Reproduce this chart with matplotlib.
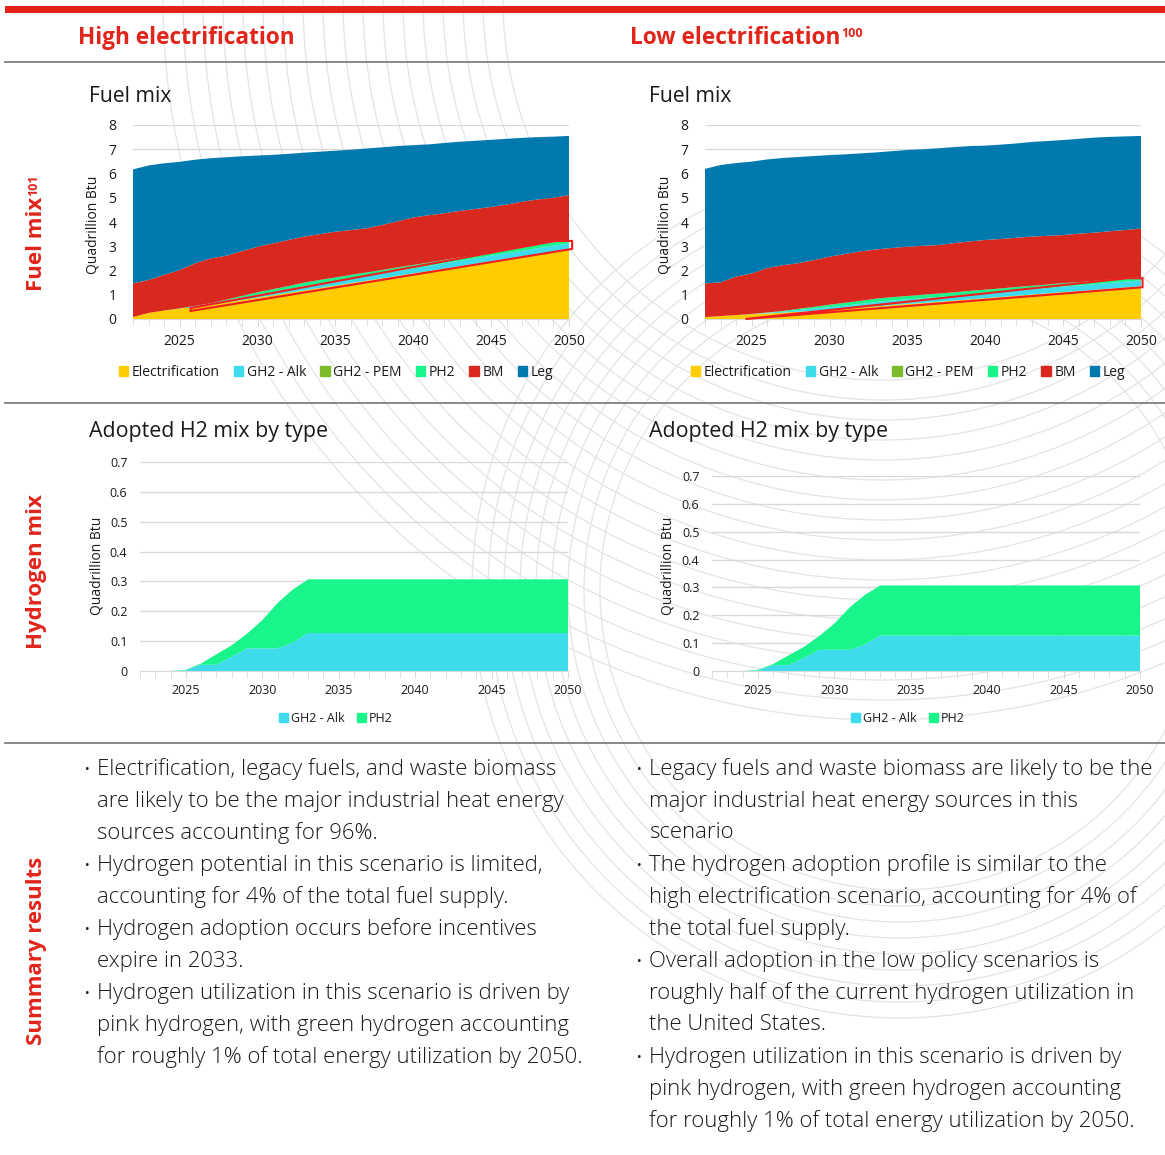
import numpy as np
import matplotlib.pyplot as plt
from matplotlib.patches import Patch, Polygon, Rectangle, Circle

plt.rcParams["font.family"] = ["Open Sans", "DejaVu Sans"]

W, H = 1165, 1155

years = list(range(2022, 2051))

# Fuel mix, high electrification scenario (Quadrillion Btu)
high_elec = [0.08, 0.25, 0.35, 0.43, 0.50, 0.58, 0.68, 0.78, 0.88, 0.98,
             1.08, 1.18, 1.28, 1.38, 1.48, 1.58, 1.68, 1.78, 1.88, 1.98,
             2.08, 2.18, 2.28, 2.38, 2.48, 2.58, 2.68, 2.78, 2.88]
high_bm_top = [1.47, 1.61, 1.82, 2.02, 2.30, 2.50, 2.61, 2.80, 2.98, 3.12,
               3.26, 3.40, 3.50, 3.60, 3.67, 3.74, 3.88, 4.03, 4.19, 4.28,
               4.36, 4.46, 4.54, 4.62, 4.72, 4.84, 4.93, 5.00, 5.11]
high_total = [6.17, 6.33, 6.42, 6.48, 6.57, 6.63, 6.67, 6.71, 6.74, 6.77,
              6.81, 6.86, 6.90, 6.94, 6.98, 7.03, 7.08, 7.13, 7.17, 7.20,
              7.26, 7.31, 7.35, 7.39, 7.43, 7.47, 7.50, 7.52, 7.55]

# Fuel mix, low electrification scenario
low_elec = [0.08, 0.12, 0.16, 0.20, 0.23, 0.26, 0.30, 0.33, 0.37, 0.42,
            0.47, 0.52, 0.57, 0.62, 0.66, 0.71, 0.76, 0.81, 0.86, 0.91,
            0.96, 1.01, 1.06, 1.11, 1.15, 1.20, 1.25, 1.30, 1.35]
low_bm_top = [1.47, 1.51, 1.75, 1.88, 2.10, 2.22, 2.30, 2.43, 2.57, 2.68,
              2.79, 2.87, 2.93, 2.98, 3.02, 3.05, 3.13, 3.20, 3.26, 3.30,
              3.35, 3.40, 3.43, 3.46, 3.52, 3.56, 3.62, 3.67, 3.73]
low_total = [6.19, 6.35, 6.43, 6.49, 6.58, 6.64, 6.68, 6.72, 6.76, 6.79,
             6.83, 6.87, 6.92, 6.97, 7.00, 7.04, 7.09, 7.13, 7.15, 7.19,
             7.24, 7.30, 7.34, 7.38, 7.43, 7.48, 7.51, 7.53, 7.55]

# Hydrogen layers inside the fuel mix
fm_alk = [0.00, 0.00, 0.00, 0.01, 0.03, 0.04, 0.07, 0.10, 0.12, 0.13,
          0.15, 0.18, 0.19, 0.19, 0.20, 0.20, 0.20, 0.21, 0.21, 0.21,
          0.22, 0.22, 0.22, 0.23, 0.23, 0.23, 0.24, 0.24, 0.24]
fm_pem = [0.0] * 29
fm_ph2 = [0.00, 0.00, 0.00, 0.00, 0.01, 0.03, 0.05, 0.07, 0.10, 0.12,
          0.13, 0.14, 0.14, 0.14, 0.14, 0.14, 0.14, 0.14, 0.14, 0.14,
          0.14, 0.14, 0.14, 0.14, 0.14, 0.14, 0.14, 0.14, 0.14]

# Adopted H2 mix by type (same in both scenarios)
h2_alk = [0.000, 0.000, 0.000, 0.002, 0.021, 0.021, 0.047, 0.076, 0.076, 0.076,
          0.095, 0.127, 0.127, 0.127, 0.127, 0.127, 0.127, 0.127, 0.127, 0.127,
          0.127, 0.127, 0.127, 0.127, 0.127, 0.127, 0.127, 0.127, 0.127]
h2_ph2 = [0.000, 0.000, 0.000, 0.002, 0.004, 0.035, 0.039, 0.049, 0.094, 0.152,
          0.178, 0.180, 0.180, 0.180, 0.180, 0.180, 0.180, 0.180, 0.180, 0.180,
          0.180, 0.180, 0.180, 0.180, 0.180, 0.180, 0.180, 0.180, 0.180]

fuel_labels = ["Electrification", "GH2 - Alk", "GH2 - PEM", "PH2", "BM", "Leg"]
fuel_colors = ["#FFCC00", "#3DDBEB", "#7DBB2A", "#19F58A", "#D9291F", "#0079AE"]

# hand-drawn callout around the hydrogen band
high_callout = [(2025.7, 0.33), (2025.7, 0.45), (2049.1, 3.22),
                (2050.2, 3.22), (2050.2, 2.89)]
low_callout = [(2024.6, 0.0), (2049.1, 1.68), (2050.1, 1.68), (2050.1, 1.31)]

summary_left = [
    (True, "Electrification, legacy fuels, and waste biomass"),
    (False, "are likely to be the major industrial heat energy"),
    (False, "sources accounting for 96%."),
    (True, "Hydrogen potential in this scenario is limited,"),
    (False, "accounting for 4% of the total fuel supply."),
    (True, "Hydrogen adoption occurs before incentives"),
    (False, "expire in 2033."),
    (True, "Hydrogen utilization in this scenario is driven by"),
    (False, "pink hydrogen, with green hydrogen accounting"),
    (False, "for roughly 1% of total energy utilization by 2050."),
]
summary_right = [
    (True, "Legacy fuels and waste biomass are likely to be the"),
    (False, "major industrial heat energy sources in this"),
    (False, "scenario"),
    (True, "The hydrogen adoption profile is similar to the"),
    (False, "high electrification scenario, accounting for 4% of"),
    (False, "the total fuel supply."),
    (True, "Overall adoption in the low policy scenarios is"),
    (False, "roughly half of the current hydrogen utilization in"),
    (False, "the United States."),
    (True, "Hydrogen utilization in this scenario is driven by"),
    (False, "pink hydrogen, with green hydrogen accounting"),
    (False, "for roughly 1% of total energy utilization by 2050."),
]

RED = "#E1251B"
GRID = "#d9d9d9"
TXT = "#1a1a1a"

fig = plt.figure(figsize=(W / 100, H / 100), dpi=100)

# full-page layer in pixel units for rules, decoration and free text
bg = fig.add_axes([0, 0, 1, 1])
bg.set_xlim(0, W)
bg.set_ylim(H, 0)
bg.axis("off")

# faint concentric rings in the page background
for r in range(380, 740, 20):
    bg.add_patch(Circle((883, 0), r, fill=False, ec="#e4e4e4", lw=0.9, zorder=0))
for r in range(300, 440, 16):
    bg.add_patch(Circle((900, 590), r, fill=False, ec="#e4e4e4", lw=0.9, zorder=0))


def frame(x0, x1, top, bottom):
    return [x0 / W, 1 - bottom / H, (x1 - x0) / W, (bottom - top) / H]


def style(ax, ymax, ystep, ypad, xpad):
    ticks = np.round(np.arange(0, ymax + 1e-9, ystep), 2)
    ax.set_xlim(2022, 2050)
    ax.set_ylim(0, ymax)
    ax.set_yticks(ticks)
    ax.set_yticklabels(["%g" % v for v in ticks])
    ax.yaxis.grid(True, color=GRID, lw=1)
    ax.set_axisbelow(True)
    for s in ["top", "right", "left"]:
        ax.spines[s].set_visible(False)
    ax.spines["bottom"].set_color(GRID)
    ax.set_xticks(range(2025, 2051, 5))
    ax.set_xticks(years, minor=True)
    ax.tick_params(axis="x", which="both", length=5, color=GRID,
                   labelsize=10, pad=xpad, labelcolor=TXT)
    ax.tick_params(axis="y", length=0, labelsize=10, pad=ypad, labelcolor=TXT)
    ax.patch.set_alpha(0)


def fuel_chart(box, elec, bm_top, total, callout):
    ax = fig.add_axes(frame(*box))
    below = np.array(elec) + np.array(fm_alk) + np.array(fm_pem) + np.array(fm_ph2)
    bm = np.array(bm_top) - below
    leg = np.array(total) - np.array(bm_top)
    ax.stackplot(years, elec, fm_alk, fm_pem, fm_ph2, bm, leg,
                 colors=fuel_colors, lw=0)
    style(ax, 8, 1, 12, 6)
    ax.add_patch(Polygon(callout, closed=True, fill=False, ec="#F01E1E",
                         lw=1.5, clip_on=False, zorder=5))
    return ax


def h2_chart(box):
    ax = fig.add_axes(frame(*box))
    ax.stackplot(years, h2_alk, h2_ph2, colors=[fuel_colors[1], fuel_colors[3]],
                 lw=0)
    style(ax, 0.7, 0.1, 9, 4)
    ax.tick_params(axis="both", labelsize=9)
    return ax


fuel_chart((133, 569, 125, 319), high_elec, high_bm_top, high_total, high_callout)
fuel_chart((705, 1141, 125, 319), low_elec, low_bm_top, low_total, low_callout)
h2_chart((140, 568, 462, 671))
h2_chart((712, 1140, 476, 671))

# legends
fuel_handles = [Patch(color=c) for c in fuel_colors]
h2_handles = [Patch(color=fuel_colors[1]), Patch(color=fuel_colors[3])]
for cx, cy, hs, ls in [(336, 372, fuel_handles, fuel_labels),
                       (908, 372, fuel_handles, fuel_labels),
                       (336, 718, h2_handles, ["GH2 - Alk", "PH2"]),
                       (908, 718, h2_handles, ["GH2 - Alk", "PH2"])]:
    fig.legend(hs, ls, loc="center", bbox_to_anchor=(cx / W, 1 - cy / H),
               ncol=len(ls), frameon=False, handlelength=0.7, handleheight=0.7,
               handletextpad=0.25, columnspacing=1.0, borderpad=0,
               fontsize=10 if len(ls) > 2 else 9, labelcolor=TXT)

# page rules
bg.add_patch(Rectangle((5, 6), 1160, 7, color="#E3231B", lw=0, zorder=3))
for y in [62, 403, 743]:
    bg.plot([5, 1165], [y, y], color="#808080", lw=1.3, zorder=3)

# headers
bg.text(78, 38, "High electrification", color=RED, fontsize=16.3,
        fontweight="bold", va="center")
low_hdr = bg.text(630, 38, "Low electrification", color=RED, fontsize=16.3,
                  fontweight="bold", va="center")

# panel titles and axis labels
for x in [89, 649]:
    bg.text(x, 96, "Fuel mix", fontsize=15.2, color=TXT, va="center")
    bg.text(x, 432, "Adopted H2 mix by type", fontsize=15.4, color=TXT,
            va="center")
for x, y in [(93, 225), (665, 225), (97, 566), (668, 566)]:
    bg.text(x, y, "Quadrillion Btu", rotation=90, fontsize=10, color=TXT,
            ha="center", va="center")

# side labels
side_fuel = bg.text(37, 291, "Fuel mix", rotation=90, color=RED, fontsize=16,
                    fontweight="bold", ha="center", va="bottom")
bg.text(37, 572, "Hydrogen mix", rotation=90, color=RED, fontsize=16,
        fontweight="bold", ha="center", va="center")
bg.text(37, 951, "Summary results", rotation=90, color=RED, fontsize=16,
        fontweight="bold", ha="center", va="center")

# summary bullets
for x0, lines in [(85, summary_left), (637, summary_right)]:
    for i, (bullet, line) in enumerate(lines):
        y = 769 + 32 * i
        if bullet:
            bg.text(x0, y, "•", fontsize=9, color=TXT, va="center")
        bg.text(x0 + 12, y, line, fontsize=15.9, color=TXT, va="center",
                fontweight="light")

# superscripts placed after their parent text
fig.canvas.draw()
inv = bg.transData.inverted()
bb = low_hdr.get_window_extent()
x1, ytop = inv.transform((bb.x1, bb.y1))
bg.text(x1 + 1, ytop + 1, "100", color=RED, fontsize=9, fontweight="bold",
        va="top", ha="left")
bb = side_fuel.get_window_extent()
xs, ys = inv.transform((bb.x0, bb.y1))
bg.text(xs + 1, ys - 1, "101", rotation=90, color=RED, fontsize=9,
        fontweight="bold", ha="left", va="bottom")

fig.savefig("out.png", dpi=100)
